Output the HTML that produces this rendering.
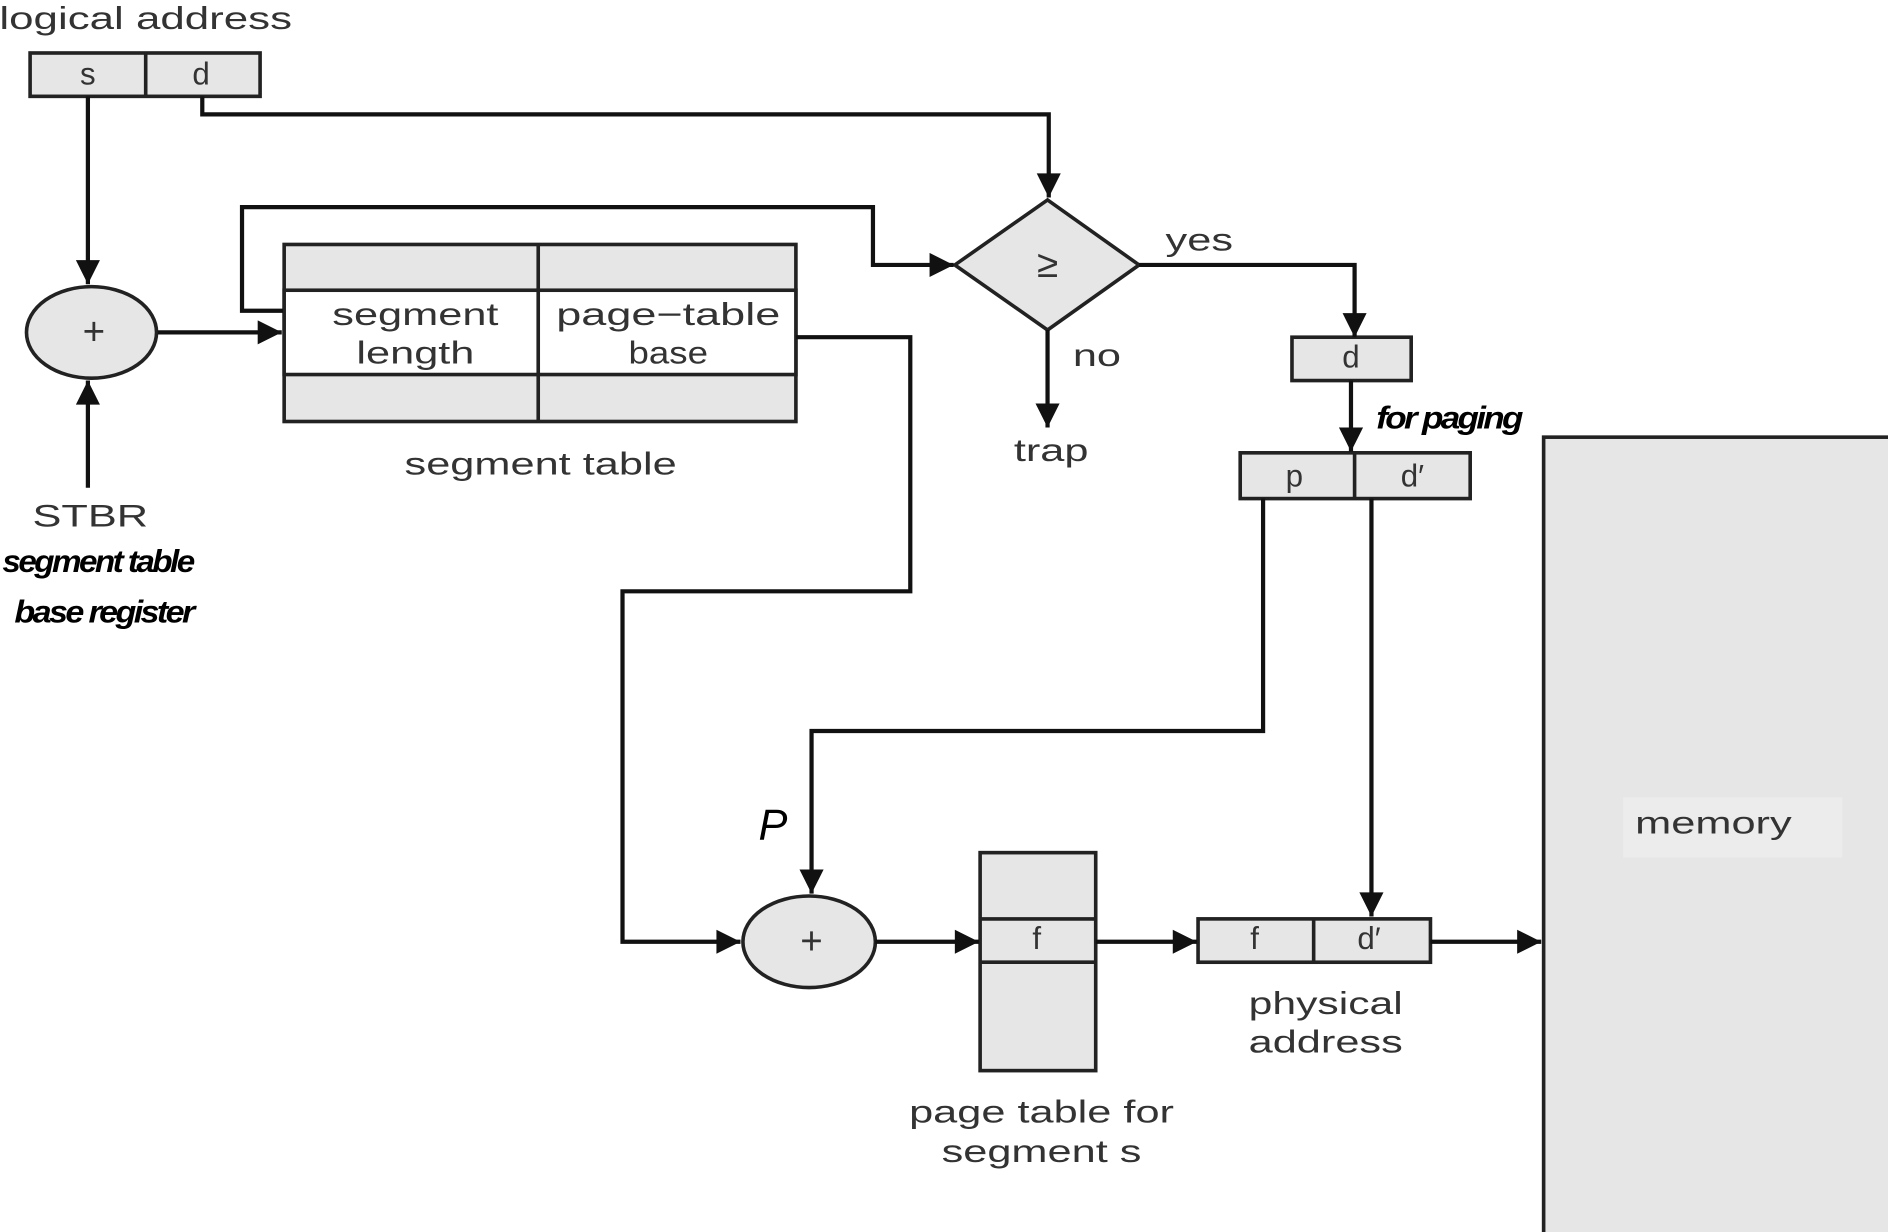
<!DOCTYPE html>
<html><head><meta charset="utf-8"><style>html,body{margin:0;padding:0;background:#fff}svg{display:block}</style></head>
<body>
<svg width="1888" height="1232" viewBox="0 0 1568 1023" preserveAspectRatio="none" xmlns="http://www.w3.org/2000/svg">
<defs>
<marker id="b" viewBox="0 0 10 10" refX="10" refY="5" markerWidth="22" markerHeight="20" markerUnits="userSpaceOnUse" orient="auto"><path d="M0,0 L10,5 L0,10z" fill="#111"/></marker></defs>
<g stroke="#222" stroke-width="3" fill="#e6e6e6">
<rect x="25" y="44" width="191" height="36"/><line x1="121" y1="44" x2="121" y2="80"/>
<ellipse cx="76" cy="276" rx="54" ry="38"/>
<rect x="236" y="203" width="425" height="147"/>
<rect x="236" y="241" width="425" height="70" fill="#fff"/>
<line x1="447" y1="203" x2="447" y2="350"/>
<polygon points="870,166 946,220 870,274 793,220"/>
<rect x="1073" y="280" width="99" height="36"/>
<rect x="1030" y="376" width="191" height="38"/><line x1="1125" y1="376" x2="1125" y2="414"/>
<ellipse cx="672" cy="782" rx="55" ry="38"/>
<rect x="814" y="708" width="96" height="181"/><line x1="814" y1="763" x2="910" y2="763"/><line x1="814" y1="799" x2="910" y2="799"/>
<rect x="995" y="763" width="193" height="36"/><line x1="1091" y1="763" x2="1091" y2="799"/>
<rect x="1282" y="363" width="290" height="665"/>
</g>
<rect x="1348" y="662" width="182" height="50" fill="#ececec"/>
<g stroke="#111" stroke-width="3.5" fill="none" marker-end="url(#b)">
<polyline points="73,80 73,236"/>
<polyline points="168,80 168,95 871,95 871,164"/>
<polyline points="73,405 73,316"/>
<polyline points="131,276 234,276"/>
<polyline points="235,258 201,258 201,172 725,172 725,220 792,220"/>
<polyline points="946,220 1125,220 1125,280" marker-end=""/>
<polyline points="870,274 870,355"/>
<polyline points="1122,316 1122,375"/>
<polyline points="1049,414 1049,607 674,607 674,742"/>
<polyline points="1139,414 1139,761"/>
<polyline points="661,280 756,280 756,491 517,491 517,782 615,782"/>
<polyline points="727,782 813,782"/>
<polyline points="910,782 994,782"/>
<polyline points="1188,782 1280,782"/>
</g>
<g font-family="Liberation Sans, sans-serif" fill="#333" font-size="26" text-anchor="middle" lengthAdjust="spacingAndGlyphs">
<text x="121" y="24" textLength="243" lengthAdjust="spacingAndGlyphs">logical address</text>
<text x="73" y="70">s</text><text x="167" y="70">d</text>
<text x="78" y="286" font-size="32">+</text>
<text x="345" y="270" textLength="138" lengthAdjust="spacingAndGlyphs">segment</text><text x="345" y="302" textLength="98" lengthAdjust="spacingAndGlyphs">length</text>
<text x="555" y="270" textLength="186" lengthAdjust="spacingAndGlyphs">page−table</text><text x="555" y="302" textLength="66" lengthAdjust="spacingAndGlyphs">base</text>
<text x="449" y="394" textLength="226" lengthAdjust="spacingAndGlyphs">segment table</text>
<text x="75" y="437" textLength="96" lengthAdjust="spacingAndGlyphs">STBR</text>
<text x="870" y="230" font-size="32">≥</text>
<text x="996" y="208" textLength="56" lengthAdjust="spacingAndGlyphs">yes</text><text x="911" y="304" textLength="40" lengthAdjust="spacingAndGlyphs">no</text><text x="873" y="383" textLength="62" lengthAdjust="spacingAndGlyphs">trap</text>
<text x="1122" y="305">d</text>
<text x="1075" y="404">p</text><text x="1173" y="404">d′</text>
<text x="674" y="792" font-size="32">+</text>
<text x="861" y="788">f</text>
<text x="1042" y="788">f</text><text x="1137" y="788">d′</text>
<text x="1101" y="842" textLength="128" lengthAdjust="spacingAndGlyphs">physical</text><text x="1101" y="874" textLength="128" lengthAdjust="spacingAndGlyphs">address</text>
<text x="865" y="932" textLength="220" lengthAdjust="spacingAndGlyphs">page table for</text><text x="865" y="965" textLength="166" lengthAdjust="spacingAndGlyphs">segment s</text>
<text x="1423" y="692" textLength="130" lengthAdjust="spacingAndGlyphs">memory</text>
</g>
<g font-family="Liberation Sans, sans-serif" fill="#000" font-style="italic" font-weight="bold" font-size="26" letter-spacing="-2">
<text x="2" y="475" textLength="158" lengthAdjust="spacingAndGlyphs">segment table</text>
<text x="12" y="517" textLength="148" lengthAdjust="spacingAndGlyphs">base register</text>
<text x="1143" y="356" textLength="120" lengthAdjust="spacingAndGlyphs">for paging</text>
<text x="630" y="697" font-size="36" font-weight="normal">P</text>
</g>
</svg>
</body></html>
